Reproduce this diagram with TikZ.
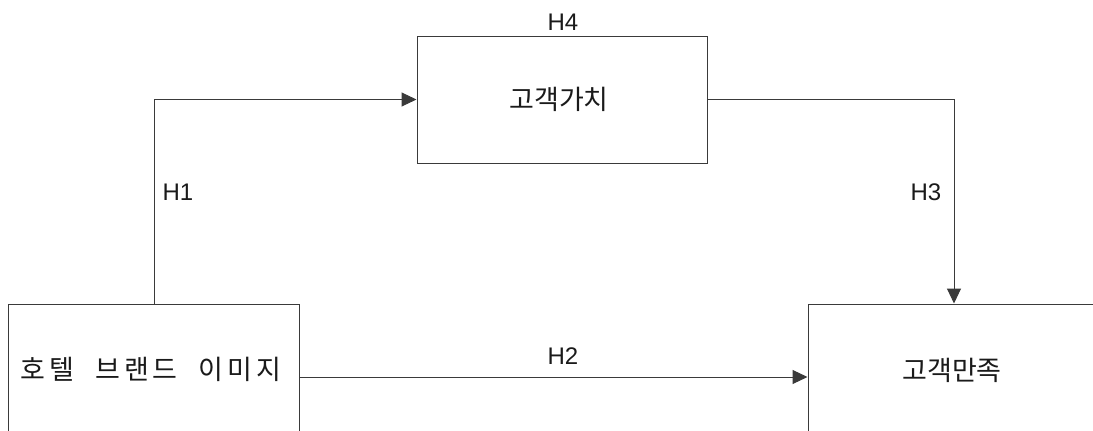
\documentclass[tikz,border=0pt]{standalone}
\usepackage{fontspec}
\setmainfont{Liberation Sans}
\newfontfamily\kofont{Noto Sans CJK KR}
\usetikzlibrary{arrows.meta}
\definecolor{linegray}{HTML}{3A3A3A}
\definecolor{textgray}{HTML}{1A1A1A}
\tikzset{
  boxnode/.style={draw=linegray, line width=1pt, rectangle, inner sep=0pt},
  kotext/.style={font=\kofont\fontsize{27}{30}\selectfont, text=textgray, inner sep=0pt},
  conn/.style={draw=linegray, line width=1pt, -{Triangle[length=15pt,width=14pt]}},
  hlabel/.style={font=\fontsize{24}{27}\selectfont, text=textgray, inner sep=0pt}
}
\newcommand{\cg}{\hspace{4pt}}
\newcommand{\wg}{\hspace{21pt}}
\begin{document}
\begin{tikzpicture}[x=1pt,y=-1pt]
\useasboundingbox (0,0) rectangle (1093,431);
\node[boxnode, minimum width=291pt, minimum height=146pt] (brand) at (154,377) {};
\node[boxnode, minimum width=290pt, minimum height=127pt] (value) at (562,99.5) {};
\node[boxnode, minimum width=292pt, minimum height=146pt] (sat) at (954,377) {};
\node[kotext] (brandtxt) at (151,369) {호\cg{}텔\wg{}브\cg{}랜\cg{}드\wg{}이\cg{}미\cg{}지};
\node[kotext] (valuetxt) at (559,99) {고객가치};
\node[kotext] (sattxt) at (952,370) {고객만족};
\draw[conn] (brand.north) |- (value.west);
\draw[conn] (value.east) -| (sat.north);
\draw[conn] (brand.east |- 0,377) -- (sat.west |- 0,377);
\node[hlabel] (h1) at (178,192) {H1};
\node[hlabel] (h3) at (926,192) {H3};
\node[hlabel] (h4) at (563,22) {H4};
\node[hlabel] (h2) at (563,356) {H2};
\end{tikzpicture}
\end{document}
